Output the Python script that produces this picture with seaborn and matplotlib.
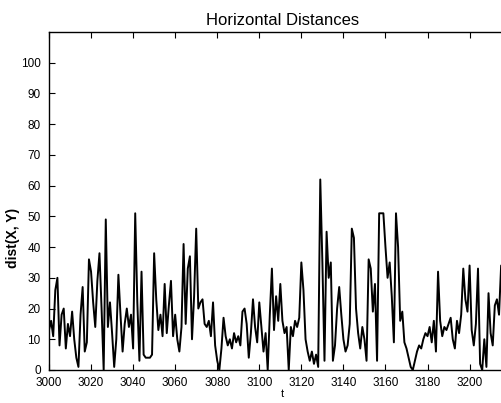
import numpy as np
import pandas as pd
import seaborn as sns
import matplotlib
matplotlib.use('Agg')
import matplotlib.pyplot as plt

# time axis, one sample per unit
t_start = 3000

# horizontal distances
dist = [
    13, 16, 11, 26, 30, 8, 18, 20, 7, 15,
    11, 19, 10, 4, 1, 18, 27, 6, 9, 36,
    32, 22, 14, 29, 38, 20, 0, 49, 14, 22,
    12, 1, 10, 31, 18, 6, 15, 20, 14, 18,
    7, 51, 22, 3, 32, 5, 4, 4, 4, 5,
    38, 23, 13, 18, 11, 28, 12, 21, 29, 11,
    18, 10, 6, 14, 41, 15, 33, 37, 10, 24,
    46, 20, 22, 23, 15, 14, 16, 11, 22, 8,
    3, 0, 7, 17, 11, 8, 10, 7, 12, 9,
    11, 8, 19, 20, 15, 4, 12, 23, 14, 9,
    22, 14, 6, 12, 0, 18, 33, 13, 24, 16,
    28, 16, 12, 14, 0, 14, 11, 16, 14, 17,
    35, 26, 10, 6, 3, 6, 2, 5, 1, 62,
    35, 3, 45, 30, 35, 3, 8, 20, 27, 18,
    10, 6, 8, 15, 46, 43, 20, 12, 7, 14,
    10, 3, 36, 33, 19, 28, 3, 51, 51, 51,
    40, 30, 35, 24, 9, 51, 40, 16, 19, 9,
    7, 4, 1, 0, 3, 6, 8, 7, 10, 12,
    11, 14, 9, 16, 6, 32, 16, 11, 14, 13,
    15, 17, 10, 7, 16, 12, 18, 33, 23, 19,
    34, 13, 8, 15, 33, 2, 0, 10, 1, 25,
    12, 8, 21, 23, 18, 34, 14, 22, 5, 18,
    19, 17,
]
t = list(range(t_start, t_start + len(dist)))

df = pd.DataFrame({'t': t, 'dist': dist})

sns.set_style("ticks", {'text.color': 'black', 'axes.labelcolor': 'black',
                        'xtick.color': 'black', 'ytick.color': 'black',
                        'axes.edgecolor': 'black'})
plt.rcParams['font.family'] = ['Liberation Sans', 'DejaVu Sans']

fig = plt.figure(figsize=(5.02, 4.03), dpi=100)
ax = fig.add_axes([0.0976, 0.0819, 0.93, 0.8387])

sns.lineplot(data=df, x='t', y='dist', ax=ax, color='black', linewidth=1.4)

ax.set_xlim(3000, 3222)
ax.set_ylim(0, 110)
ax.set_xticks(range(3000, 3201, 20))
ax.set_yticks(range(0, 101, 10))
ax.tick_params(direction='in', top=True, right=True, labelsize=8.5, length=4,
               colors='black')
ax.tick_params(axis='x', pad=5)
ax.tick_params(axis='y', pad=6)
for side in ['top', 'right', 'left', 'bottom']:
    ax.spines[side].set_visible(True)
    ax.spines[side].set_linewidth(1.0)
    ax.spines[side].set_color('black')

ax.set_title('Horizontal Distances', fontsize=12, color='black', pad=5)
ax.set_ylabel('dist(X, Y)', fontsize=10, fontweight='bold')
ax.yaxis.set_label_coords(-0.062, 0.39)
ax.set_xlabel('t', fontsize=8, labelpad=0)

plt.savefig('out.png', dpi=100)
